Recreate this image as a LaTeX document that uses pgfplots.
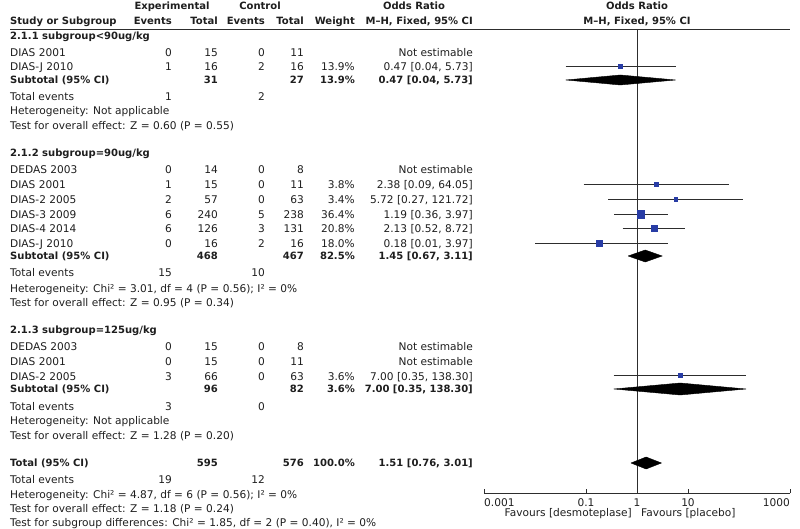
\documentclass[border=0pt]{standalone}
\usepackage{pgfplots}
\pgfplotsset{compat=1.18}
\usepackage{fontspec}
\setmainfont{DejaVu Sans}[BoldFeatures={Scale=0.945}]
\definecolor{sqblue}{RGB}{40,60,165}
\definecolor{txt}{RGB}{30,30,30}
\definecolor{ln}{RGB}{45,45,45}
\newcommand{\Lt}[3]{\node[anchor=west] at (axis cs:#1,#2) {#3};}
\newcommand{\Rt}[3]{\node[anchor=east] at (axis cs:#1,#2) {#3};}
\newcommand{\Ct}[3]{\node[anchor=center] at (axis cs:#1,#2) {#3};}
\newcommand{\row}[8]{\Lt{10}{#1}{#2}\Rt{172}{#1}{#3}\Rt{218}{#1}{#4}\Rt{265}{#1}{#5}\Rt{304}{#1}{#6}\Rt{355}{#1}{#7}\Rt{473}{#1}{#8}}
\newcommand{\tev}[3]{\Lt{10}{#1}{Total events}\Rt{172}{#1}{#2}\Rt{265}{#1}{#3}}
\tikzset{every node/.style={inner sep=0pt, text height=7bp, text depth=0bp, text=txt, font=\fontsize{10.6bp}{12bp}\selectfont}}
\begin{document}
\begin{tikzpicture}
\useasboundingbox (0,0) rectangle (800bp,529bp);
\begin{axis}[at={(0,0)}, anchor=south west, scale only axis, width=800bp, height=529bp,
  xmin=0, xmax=800, ymin=-529, ymax=0, hide axis, clip=false]
% header
\Ct{172}{-6}{\textbf{Experimental}}
\Ct{260}{-6}{\textbf{Control}}
\Ct{414}{-6}{\textbf{Odds Ratio}}
\Ct{637}{-6}{\textbf{Odds Ratio}}
\Lt{10}{-21}{\textbf{Study or Subgroup}}
\Rt{172}{-21}{\textbf{Events}}
\Rt{218}{-21}{\textbf{Total}}
\Rt{265}{-21}{\textbf{Events}}
\Rt{304}{-21}{\textbf{Total}}
\Rt{355}{-21}{\textbf{Weight}}
\Rt{473}{-21}{\textbf{M–H, Fixed, 95\% CI}}
\Ct{637}{-21}{\textbf{M–H, Fixed, 95\% CI}}
\addplot[ln, line width=0.9bp] coordinates {(10,-29) (790,-29)};
% group 1
\Lt{10}{-36}{\textbf{2.1.1 subgroup<90ug/kg}}
\row{-53}{DIAS 2001}{0}{15}{0}{11}{}{Not estimable}
\row{-67}{DIAS-J 2010}{1}{16}{2}{16}{13.9\%}{0.47 [0.04, 5.73]}
\row{-80}{\textbf{Subtotal (95\% CI)}}{}{\textbf{31}}{}{\textbf{27}}{\textbf{13.9\%}}{\textbf{0.47 [0.04, 5.73]}}
\tev{-97}{1}{2}
\Lt{10}{-111}{Heterogeneity: Not applicable}
\Lt{10}{-126}{Test for overall effect: Z = 0.60 (P = 0.55)}
% group 2
\Lt{10}{-153}{\textbf{2.1.2 subgroup=90ug/kg}}
\row{-170}{DEDAS 2003}{0}{14}{0}{8}{}{Not estimable}
\row{-185}{DIAS 2001}{1}{15}{0}{11}{3.8\%}{2.38 [0.09, 64.05]}
\row{-200}{DIAS-2 2005}{2}{57}{0}{63}{3.4\%}{5.72 [0.27, 121.72]}
\row{-215}{DIAS-3 2009}{6}{240}{5}{238}{36.4\%}{1.19 [0.36, 3.97]}
\row{-229}{DIAS-4 2014}{6}{126}{3}{131}{20.8\%}{2.13 [0.52, 8.72]}
\row{-244}{DIAS-J 2010}{0}{16}{2}{16}{18.0\%}{0.18 [0.01, 3.97]}
\row{-256}{\textbf{Subtotal (95\% CI)}}{}{\textbf{468}}{}{\textbf{467}}{\textbf{82.5\%}}{\textbf{1.45 [0.67, 3.11]}}
\tev{-273}{15}{10}
\Lt{10}{-289}{Heterogeneity: Chi² = 3.01, df = 4 (P = 0.56); I² = 0\%}
\Lt{10}{-303}{Test for overall effect: Z = 0.95 (P = 0.34)}
% group 3
\Lt{10}{-330}{\textbf{2.1.3 subgroup=125ug/kg}}
\row{-347}{DEDAS 2003}{0}{15}{0}{8}{}{Not estimable}
\row{-362}{DIAS 2001}{0}{15}{0}{11}{}{Not estimable}
\row{-377}{DIAS-2 2005}{3}{66}{0}{63}{3.6\%}{7.00 [0.35, 138.30]}
\row{-389}{\textbf{Subtotal (95\% CI)}}{}{\textbf{96}}{}{\textbf{82}}{\textbf{3.6\%}}{\textbf{7.00 [0.35, 138.30]}}
\tev{-407}{3}{0}
\Lt{10}{-421}{Heterogeneity: Not applicable}
\Lt{10}{-436}{Test for overall effect: Z = 1.28 (P = 0.20)}
% total
\row{-463}{\textbf{Total (95\% CI)}}{}{\textbf{595}}{}{\textbf{576}}{\textbf{100.0\%}}{\textbf{1.51 [0.76, 3.01]}}
\tev{-480}{19}{12}
\Lt{10}{-495}{Heterogeneity: Chi² = 4.87, df = 6 (P = 0.56); I² = 0\%}
\Lt{10}{-509}{Test for overall effect: Z = 1.18 (P = 0.24)}
\Lt{10}{-523}{Test for subgroup differences: Chi² = 1.85, df = 2 (P = 0.40), I² = 0\%}
% forest tick labels
\Lt{484}{-503}{0.001}
\Ct{586}{-503}{0.1}
\Ct{637}{-503}{1}
\Ct{688}{-503}{10}
\Rt{790}{-503}{1000}
\Rt{632}{-513}{Favours [desmoteplase]}
\Lt{641}{-513}{Favours [placebo]}
\end{axis}
\begin{axis}[at={(484bp,36bp)}, anchor=south west, scale only axis, width=306bp, height=464bp,
  xmode=log, xmin=0.001, xmax=1000, ymin=-493, ymax=-29,
  axis x line=bottom, axis y line=none, x axis line style={-, ln, line width=0.9bp},
  xtick={0.001,0.1,1,10,1000}, xticklabels={}, xminorticks=false,
  major tick length=4bp, tick style={ln, line width=0.9bp}, tick align=inside, clip=false]
\addplot[ln, line width=0.9bp] coordinates {(1,-29) (1,-493)};
% CI lines
\addplot[ln, line width=0.9bp] coordinates {(0.04,-66) (5.73,-66)};
\addplot[ln, line width=0.9bp] coordinates {(0.09,-184) (64.05,-184)};
\addplot[ln, line width=0.9bp] coordinates {(0.27,-199) (121.72,-199)};
\addplot[ln, line width=0.9bp] coordinates {(0.36,-214) (3.97,-214)};
\addplot[ln, line width=0.9bp] coordinates {(0.52,-228) (8.72,-228)};
\addplot[ln, line width=0.9bp] coordinates {(0.01,-243) (3.97,-243)};
\addplot[ln, line width=0.9bp] coordinates {(0.35,-375) (138.30,-375)};
% squares
\addplot[only marks, mark=square*, mark size=2bp, sqblue] coordinates {(0.47,-66)};
\addplot[only marks, mark=square*, mark size=1.8bp, sqblue] coordinates {(2.38,-184)};
\addplot[only marks, mark=square*, mark size=1.8bp, sqblue] coordinates {(5.72,-199)};
\addplot[only marks, mark=square*, mark size=3.8bp, sqblue] coordinates {(1.19,-214)};
\addplot[only marks, mark=square*, mark size=3bp, sqblue] coordinates {(2.13,-228)};
\addplot[only marks, mark=square*, mark size=3bp, sqblue] coordinates {(0.18,-243)};
\addplot[only marks, mark=square*, mark size=1.8bp, sqblue] coordinates {(7.00,-375)};
% diamonds
\addplot[fill=black, draw=black] coordinates {(0.04,-80) (0.47,-75) (5.73,-80) (0.47,-85) (0.04,-80)};
\addplot[fill=black, draw=black] coordinates {(0.67,-256) (1.45,-250) (3.11,-256) (1.45,-262) (0.67,-256)};
\addplot[fill=black, draw=black] coordinates {(0.35,-389) (7.00,-383) (138.30,-389) (7.00,-395) (0.35,-389)};
\addplot[fill=black, draw=black] coordinates {(0.76,-463) (1.51,-457) (3.01,-463) (1.51,-469) (0.76,-463)};
\end{axis}
\end{tikzpicture}
\end{document}
